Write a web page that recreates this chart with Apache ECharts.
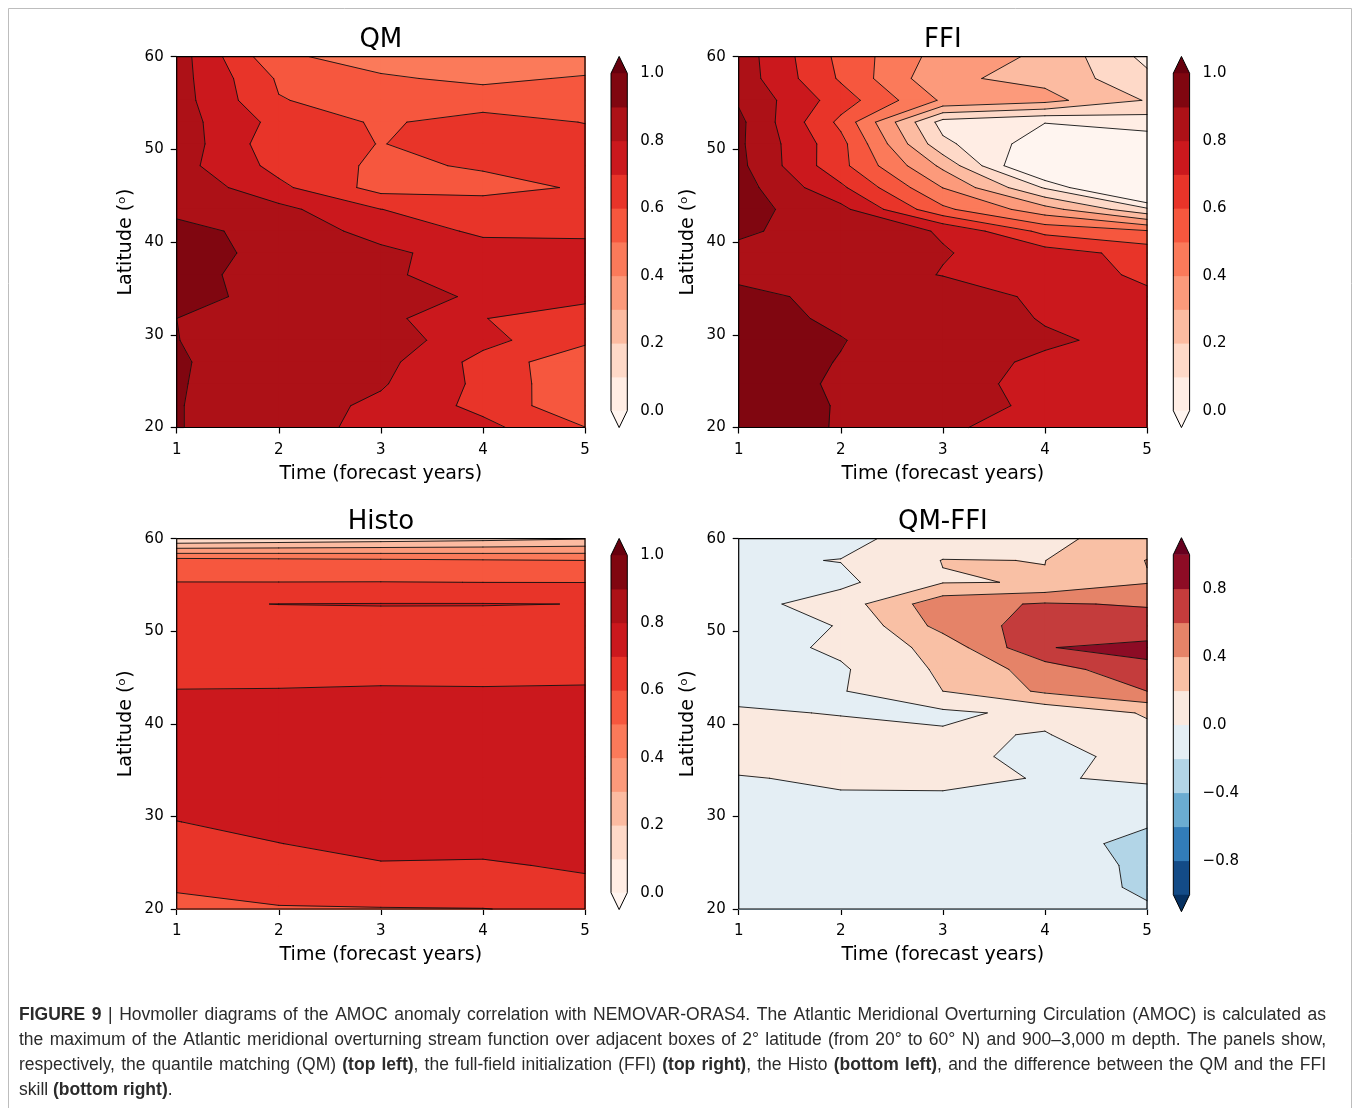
<!DOCTYPE html>
<html><head><meta charset="utf-8">
<script src="https://cdn.jsdelivr.net/npm/echarts@6/dist/echarts.min.js"></script>
<style>html,body{margin:0;padding:0;background:#fff;}#chart{width:1359px;height:1108px;}</style>
</head><body><div id="chart"></div>
<script>
// ---------------- data ----------------
const years = [1, 2, 3, 4, 5];
const latitudes = [60, 57.65, 55.29, 52.94, 50.59, 48.24, 45.88, 43.53, 41.18, 38.82, 36.47, 34.12, 31.76, 29.41, 27.06, 24.71, 22.35, 20];
const corrLevels = [0, 0.1, 0.2, 0.3, 0.4, 0.5, 0.6, 0.7, 0.8, 0.9, 1.0];
const diffLevels = [-1, -0.8, -0.6, -0.4, -0.2, 0, 0.2, 0.4, 0.6, 0.8, 1.0];
const corrTicks = [0, 0.2, 0.4, 0.6, 0.8, 1.0];
const diffTicks = [-0.8, -0.4, 0, 0.4, 0.8];
const xTickLabels = ['1', '2', '3', '4', '5'];
const latTicks = [20, 30, 40, 50, 60];
const latTickLabels = ['20', '30', '40', '50', '60'];

// rows: latitudes (top->bottom), columns: forecast years 1..5
const qmSkill = [
  [0.849, 0.517, 0.46, 0.43, 0.44],
  [0.842, 0.587, 0.512, 0.48, 0.51],
  [0.845, 0.605, 0.56, 0.55, 0.56],
  [0.846, 0.668, 0.586, 0.641, 0.597],
  [0.863, 0.636, 0.598, 0.632, 0.64],
  [0.839, 0.669, 0.581, 0.61, 0.64],
  [0.879, 0.723, 0.562, 0.57, 0.61],
  [0.88, 0.829, 0.701, 0.65, 0.68],
  [0.926, 0.87, 0.76, 0.682, 0.69],
  [0.943, 0.87, 0.825, 0.745, 0.719],
  [0.924, 0.87, 0.83, 0.715, 0.72],
  [0.931, 0.87, 0.86, 0.78, 0.71],
  [0.90, 0.86, 0.834, 0.701, 0.68],
  [0.901, 0.87, 0.857, 0.73, 0.624],
  [0.907, 0.86, 0.832, 0.666, 0.52],
  [0.905, 0.86, 0.81, 0.677, 0.516],
  [0.904, 0.85, 0.779, 0.672, 0.522],
  [0.904, 0.85, 0.765, 0.728, 0.602]
];
const ffiSkill = [
  [0.856, 0.573, 0.355, 0.283, 0.073],
  [0.859, 0.587, 0.316, 0.274, 0.124],
  [0.888, 0.651, 0.385, 0.332, 0.193],
  [0.925, 0.575, 0.06, 0.003, 0.05],
  [0.918, 0.633, 0.125, -0.06, -0.07],
  [0.926, 0.63, 0.277, -0.185, -0.15],
  [0.945, 0.72, 0.398, 0.09, -0.28],
  [0.94, 0.829, 0.522, 0.34, 0.122],
  [0.913, 0.86, 0.792, 0.57, 0.51],
  [0.88, 0.86, 0.806, 0.75, 0.66],
  [0.875, 0.87, 0.795, 0.76, 0.68],
  [0.93, 0.87, 0.88, 0.77, 0.72],
  [0.947, 0.88, 0.87, 0.792, 0.75],
  [0.95, 0.905, 0.825, 0.815, 0.77],
  [0.96, 0.895, 0.84, 0.783, 0.76],
  [0.96, 0.885, 0.83, 0.775, 0.77],
  [0.96, 0.893, 0.83, 0.785, 0.775],
  [0.96, 0.892, 0.815, 0.756, 0.78]
];
const histoSkill = [
  [0.11, 0.13, 0.15, 0.17, 0.195],
  [0.54, 0.53, 0.52, 0.51, 0.50],
  [0.601, 0.601, 0.602, 0.5995, 0.599],
  [0.69, 0.701, 0.703, 0.703, 0.699],
  [0.66, 0.66, 0.67, 0.665, 0.66],
  [0.67, 0.67, 0.675, 0.67, 0.67],
  [0.68, 0.68, 0.685, 0.685, 0.685],
  [0.702, 0.703, 0.705, 0.704, 0.706],
  [0.73, 0.73, 0.735, 0.73, 0.73],
  [0.74, 0.745, 0.75, 0.745, 0.74],
  [0.745, 0.75, 0.755, 0.75, 0.75],
  [0.745, 0.755, 0.76, 0.755, 0.75],
  [0.72, 0.75, 0.76, 0.755, 0.745],
  [0.699, 0.72, 0.74, 0.74, 0.73],
  [0.68, 0.699, 0.72, 0.72, 0.72],
  [0.66, 0.68, 0.695, 0.692, 0.709],
  [0.61, 0.65, 0.66, 0.66, 0.685],
  [0.57, 0.59, 0.595, 0.598, 0.62]
];
const diffSkill = [
  [-0.05, -0.061, 0.11, 0.15, 0.30],
  [-0.025, 0.005, 0.205, 0.198, 0.405],
  [-0.08, -0.045, 0.19, 0.208, 0.39],
  [-0.07, 0.095, 0.529, 0.62, 0.58],
  [-0.055, 0.005, 0.47, 0.696, 0.71],
  [-0.095, 0.04, 0.27, 0.795, 0.84],
  [-0.07, -0.025, 0.235, 0.49, 0.767],
  [-0.05, -0.013, 0.2, 0.433, 0.60],
  [0.02, -0.008, -0.0385, 0.05, 0.22],
  [0.06, 0.05, 0.025, -0.01, 0.144],
  [0.06, 0.05, 0.03, -0.03, 0.03],
  [-0.01, 0.023, 0.04, -0.0094, 0.0175],
  [-0.05, -0.02, -0.03, -0.05, -0.05],
  [-0.05, -0.05, -0.06, -0.1, -0.17],
  [-0.05, -0.05, -0.06, -0.1, -0.273],
  [-0.05, -0.05, -0.06, -0.1, -0.238],
  [-0.05, -0.05, -0.06, -0.1, -0.232],
  [-0.05, -0.05, -0.06, -0.1, -0.18]
];

// ---------------- styles ----------------
const corrColors = ['#fff5f0','#ffede4','#fed9c8','#fcbba1','#fc9a7b','#fb7a5a','#f6573e','#e83429','#cb181d','#ad1117','#800610','#67000d'];
const diffColors = ['#053061','#134b87','#327cb8','#6bacd1','#b2d5e7','#e4eef4','#fae9df','#f9c0a5','#e58368','#c43c3c','#8d0c25','#67001f'];
const FONT = 'DejaVu Sans';

const panels = [
  {title: 'QM', vals: qmSkill, levels: corrLevels, colors: corrColors, ticks: corrTicks,
   g: {left: 176.7, top: 56.7, width: 408.3, height: 370.8}, cb: {left: 611, top: 73.3, width: 16.3, height: 337.4}},
  {title: 'FFI', vals: ffiSkill, levels: corrLevels, colors: corrColors, ticks: corrTicks,
   g: {left: 738.7, top: 56.7, width: 408.3, height: 370.8}, cb: {left: 1173.3, top: 73.3, width: 16.3, height: 337.4}},
  {title: 'Histo', vals: histoSkill, levels: corrLevels, colors: corrColors, ticks: corrTicks,
   g: {left: 176.7, top: 538.7, width: 408.3, height: 370.3}, cb: {left: 611, top: 555.3, width: 16.3, height: 337.4}},
  {title: 'QM-FFI', vals: diffSkill, levels: diffLevels, colors: diffColors, ticks: diffTicks,
   g: {left: 738.7, top: 538.7, width: 408.3, height: 370.3}, cb: {left: 1173.3, top: 554.7, width: 16.3, height: 340}}
];

// ---------------- contour helpers ----------------
function cellCorners(api, vals, i, k) {
  const a = api.coord([years[i], latitudes[k]]);
  const b = api.coord([years[i + 1], latitudes[k + 1]]);
  return {x0: a[0], y0: a[1], x1: b[0], y1: b[1],
    v: [vals[k][i], vals[k][i + 1], vals[k + 1][i + 1], vals[k + 1][i]]};
}
function quad(c, pad) {
  const x0 = c.x0 - pad, x1 = c.x1 + pad, y0 = c.y0 - pad, y1 = c.y1 + pad;
  return [{x: x0, y: y0, v: c.v[0]}, {x: x1, y: y0, v: c.v[1]}, {x: x1, y: y1, v: c.v[2]}, {x: x0, y: y1, v: c.v[3]}];
}
function clipAbove(pts, L) {
  const out = [];
  for (let i = 0; i < pts.length; i++) {
    const A = pts[i], B = pts[(i + 1) % pts.length];
    const ain = A.v >= L, bin = B.v >= L;
    if (ain) out.push(A);
    if (ain !== bin) {
      const t = (L - A.v) / (B.v - A.v);
      out.push({x: A.x + t * (B.x - A.x), y: A.y + t * (B.y - A.y), v: L, tag: ain ? 'exit' : 'entry'});
    }
  }
  return out;
}

const cells = [];
for (let k = 0; k < latitudes.length - 1; k++)
  for (let i = 0; i < years.length - 1; i++)
    cells.push([years[i], latitudes[k], i, k]);

const grids = [], xAxes = [], yAxes = [], series = [], graphics = [];
const cbGrids = [], cbX = [], cbY = [];

panels.forEach((p, pi) => {
  grids.push(Object.assign({containLabel: false}, p.g));
  xAxes.push({gridIndex: pi, type: 'value', min: years[0], max: years[years.length - 1], interval: 1,
    name: 'Time (forecast years)', nameLocation: 'middle', nameGap: 37,
    nameTextStyle: {fontSize: 19, fontFamily: FONT, color: '#000'},
    axisLine: {show: false}, splitLine: {show: false},
    axisTick: {show: true, length: 6, lineStyle: {color: '#000', width: 1.2}},
    axisLabel: {fontSize: 15, fontFamily: FONT, color: '#000', margin: 15,
      formatter: v => xTickLabels[years.indexOf(v)] || ''}});
  yAxes.push({gridIndex: pi, type: 'value', min: 20, max: 60, interval: 10,
    name: 'Latitude (ᵒ)', nameLocation: 'middle', nameGap: 41, nameRotate: 90,
    nameTextStyle: {fontSize: 19, fontFamily: FONT, color: '#000'},
    axisLine: {show: false}, splitLine: {show: false},
    axisTick: {show: true, length: 6, lineStyle: {color: '#000', width: 1.2}},
    axisLabel: {fontSize: 15, fontFamily: FONT, color: '#000', margin: 13,
      formatter: v => latTickLabels[latTicks.indexOf(v)] || ''}});

  const vals = p.vals, levels = p.levels, colors = p.colors;
  // filled bands: every level layer is drawn over the one below (z2 = layer index)
  series.push({type: 'custom', xAxisIndex: pi, yAxisIndex: pi, data: cells, silent: true, z: 2,
    encode: {x: 0, y: 1},
    renderItem: function (params, api) {
      const i = api.value(2), k = api.value(3);
      const q = quad(cellCorners(api, vals, i, k), 0.6);
      const children = [{type: 'polygon', z2: 0, shape: {points: q.map(pt => [pt.x, pt.y])}, style: {fill: colors[0]}}];
      levels.forEach((L, j) => {
        const poly = clipAbove(q, L);
        if (poly.length >= 3) children.push({type: 'polygon', z2: j + 1, shape: {points: poly.map(pt => [pt.x, pt.y])}, style: {fill: colors[j + 1]}});
      });
      return {type: 'group', children: children};
    }});
  // contour lines
  series.push({type: 'custom', xAxisIndex: pi, yAxisIndex: pi, data: cells, silent: true, z: 3,
    encode: {x: 0, y: 1},
    renderItem: function (params, api) {
      const i = api.value(2), k = api.value(3);
      const q = quad(cellCorners(api, vals, i, k), 0);
      let d = '';
      levels.forEach(L => {
        const poly = clipAbove(q, L);
        for (let m = 0; m < poly.length; m++) {
          const P = poly[m], Q = poly[(m + 1) % poly.length];
          if (P.tag === 'exit' && Q.tag === 'entry') d += 'M' + P.x.toFixed(2) + ',' + P.y.toFixed(2) + 'L' + Q.x.toFixed(2) + ',' + Q.y.toFixed(2);
        }
      });
      if (!d) return {type: 'group', children: []};
      return {type: 'path', shape: {pathData: d}, style: {stroke: '#111', fill: null, lineWidth: 0.9, lineCap: 'round', lineJoin: 'round'}};
    }});
  // frame
  series.push({type: 'custom', xAxisIndex: pi, yAxisIndex: pi, data: [[years[0], latitudes[latitudes.length - 1]]], silent: true, z: 4,
    renderItem: function (params, api) {
      const a = api.coord([years[0], latitudes[0]]);
      const b = api.coord([years[years.length - 1], latitudes[latitudes.length - 1]]);
      return {type: 'rect', shape: {x: a[0], y: a[1], width: b[0] - a[0], height: b[1] - a[1]},
        style: {fill: null, stroke: '#000', lineWidth: 1.2}};
    }});

  // colour bar
  const ci = 4 + pi;
  cbGrids.push(Object.assign({containLabel: false}, p.cb));
  const lo = levels[0], hi = levels[levels.length - 1], ext = 0.05 * (hi - lo);
  cbX.push({gridIndex: ci, type: 'value', min: 0, max: 1, show: false});
  const fmt = v => (v < -1e-9 ? '\u2212' : '') + Math.abs(v).toFixed(1);
  cbY.push({gridIndex: ci, type: 'value', position: 'right', min: lo, max: hi, interval: 0.2,
    axisLine: {show: false}, splitLine: {show: false},
    axisTick: {show: true, length: 5, lineStyle: {color: '#000', width: 1.1}, customValues: p.ticks},
    axisLabel: {fontSize: 15, fontFamily: FONT, color: '#000', margin: 13, formatter: fmt, customValues: p.ticks}});
  const cbData = [];
  for (let j = 0; j < levels.length - 1; j++) cbData.push([0.5, levels[j], levels[j + 1], j + 1, 0]);
  cbData.push([0.5, lo, lo, 0, 1]);
  cbData.push([0.5, hi, hi, colors.length - 1, 2]);
  cbData.push([0.5, lo, hi, 0, 3]);
  series.push({type: 'custom', xAxisIndex: ci, yAxisIndex: ci, data: cbData, silent: true, z: 2,
    encode: {x: 0, y: 1},
    renderItem: function (params, api) {
      const a = api.value(1), b = api.value(2), col = colors[api.value(3)], kind = api.value(4);
      if (kind === 0) {
        const p0 = api.coord([0, a]), p1 = api.coord([1, b]);
        return {type: 'rect', shape: {x: p0[0], y: p1[1] - 0.4, width: p1[0] - p0[0], height: p0[1] - p1[1] + 0.8}, style: {fill: col}};
      }
      if (kind === 1 || kind === 2) {
        const e = kind === 1 ? a - ext : a + ext;
        const pts = [api.coord([0, a]), api.coord([1, a]), api.coord([0.5, e])];
        return {type: 'polygon', shape: {points: pts}, style: {fill: col}};
      }
      const pts = [api.coord([0.5, lo - ext]), api.coord([0, lo]), api.coord([0, hi]), api.coord([0.5, hi + ext]), api.coord([1, hi]), api.coord([1, lo])];
      return {type: 'polygon', z2: 10, shape: {points: pts}, style: {fill: null, stroke: '#000', lineWidth: 1}};
    }});

  graphics.push({type: 'text', x: p.g.left + p.g.width / 2, y: p.g.top - 16, silent: true,
    style: {text: p.title, font: '26px "DejaVu Sans"', fill: '#000', align: 'center', verticalAlign: 'middle'}});
});

// ---------------- caption ----------------
const captionLines = [
  [['FIGURE 9', 1], [' | Hovmoller diagrams of the AMOC anomaly correlation with NEMOVAR-ORAS4. The Atlantic Meridional Overturning Circulation (AMOC) is calculated as', 0]],
  [['the maximum of the Atlantic meridional overturning stream function over adjacent boxes of 2° latitude (from 20° to 60° N) and 900–3,000 m depth. The panels show,', 0]],
  [['respectively, the quantile matching (QM) ', 0], ['(top left)', 1], [', the full-field initialization (FFI) ', 0], ['(top right)', 1], [', the Histo ', 0], ['(bottom left)', 1], [', and the difference between the QM and the FFI', 0]],
  [['skill ', 0], ['(bottom right)', 1], ['.', 0]]
];
function layoutCaption(lines, x0, x1, y0, dy, size) {
  const ctx = document.createElement('canvas').getContext('2d');
  const fam = '"Liberation Sans", Arial, sans-serif';
  const els = [];
  lines.forEach((segs, li) => {
    const words = []; let cur = [];
    segs.forEach(([txt, bold]) => {
      txt.split(' ').forEach((part, idx) => {
        if (idx > 0) { if (cur.length) words.push(cur); cur = []; }
        if (part) cur.push({t: part, b: bold});
      });
    });
    if (cur.length) words.push(cur);
    let total = 0;
    words.forEach(w => { w.width = 0; w.forEach(pc => { ctx.font = (pc.b ? 'bold ' : '') + size + 'px ' + fam; pc.w = ctx.measureText(pc.t).width; w.width += pc.w; }); total += w.width; });
    ctx.font = size + 'px ' + fam;
    const sp = ctx.measureText(' ').width;
    const justify = li < lines.length - 1;
    let gap = justify ? (x1 - x0 - total) / (words.length - 1) : sp;
    if (gap < sp * 0.6) gap = sp * 0.6;
    let x = x0; const y = y0 + li * dy;
    words.forEach(w => {
      w.forEach(pc => {
        els.push({type: 'text', x: x, y: y, silent: true,
          style: {text: pc.t, font: (pc.b ? 'bold ' : '') + size + 'px ' + fam, fill: '#2b2b2b', verticalAlign: 'middle'}});
        x += pc.w;
      });
      x += gap;
    });
  });
  return els;
}
layoutCaption(captionLines, 19, 1326, 1015, 25.2, 17.5).forEach(e => graphics.push(e));
graphics.push({type: 'rect', silent: true, z: -1, shape: {x: 8.5, y: 8.5, width: 1343, height: 1130},
  style: {fill: null, stroke: '#bdbdbd', lineWidth: 1}});

const chart = echarts.init(document.getElementById('chart'), null, {renderer: 'canvas'});
chart.setOption({
  animation: false,
  backgroundColor: '#fff',
  grid: grids.concat(cbGrids), xAxis: xAxes.concat(cbX), yAxis: yAxes.concat(cbY), series: series,
  graphic: {elements: graphics}
});
</script></body></html>
